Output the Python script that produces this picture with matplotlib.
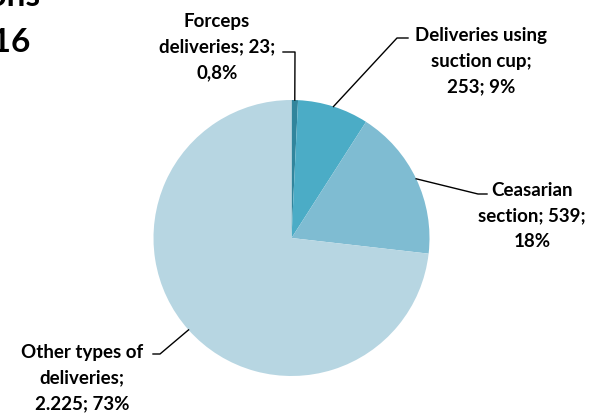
import matplotlib
matplotlib.use('Agg')
import matplotlib.pyplot as plt
import numpy as np

# donnees
types = ['Forceps\ndeliveries', 'Deliveries using\nsuction cup', 'Ceasarian\nsection', 'Other types of\ndeliveries']
valeurs = [23, 253, 539, 2225]
valeurs_txt = ['23', '253', '539', '2.225']
pourcents = ['0,8%', '9%', '18%', '73%']
couleurs = ['#31859C', '#4BACC6', '#7FBCD2', '#B7D6E2']

W, H = 593, 414
police = ['Lato', 'DejaVu Sans']

def py(y):  # pixels depuis le haut -> coordonnees axe
    return H - y

fig = plt.figure(figsize=(W/100, H/100), dpi=100)
ax = fig.add_axes([0, 0, 1, 1])

cx, cy, R = 291.5, py(239), 138
wedges, _ = ax.pie(valeurs, colors=couleurs, startangle=90, counterclock=False,
                   radius=R, center=(cx, cy), frame=True,
                   wedgeprops=dict(linewidth=0))
ax.set_xlim(0, W)
ax.set_ylim(0, H)
ax.axis('off')

# textes des etiquettes
etiq = ['Forceps\ndeliveries; 23;\n0,8%',
        'Deliveries using\nsuction cup;\n253; 9%',
        'Ceasarian\nsection; 539;\n18%',
        'Other types of\ndeliveries;\n2.225; 73%']

# position du texte (px) et coude du trait
pos_txt = [(217, 47), (481, 61), (532, 216), (82, 378)]
coude = [[(295, 53), (283, 53)],
         [(397, 39), (408, 39)],
         [(478, 195), (487, 195)],
         [(160, 355), (153, 355)]]

for w, txt, (tx, ty), cd in zip(wedges, etiq, pos_txt, coude):
    a = np.deg2rad((w.theta1 + w.theta2) / 2)
    x0, y0 = cx + R*np.cos(a), cy + R*np.sin(a)
    xs = [x0] + [c[0] for c in cd]
    ys = [y0] + [py(c[1]) for c in cd]
    ax.plot(xs, ys, color='black', lw=1)
    ax.text(tx, py(ty), txt, ha='center', va='center', fontsize=13.5,
            fontweight='bold', family=police, linespacing=1.62, color='black')

# titre (coupe dans l'image d'origine)
ax.text(40, py(6), 'Deliveries by complications', ha='right', va='baseline',
        fontsize=24, fontweight='bold', family=police, color='black')
ax.text(31, py(52), '2016', ha='right', va='baseline',
        fontsize=24, fontweight='bold', family=police, color='black')

fig.savefig('out.png', dpi=100)
